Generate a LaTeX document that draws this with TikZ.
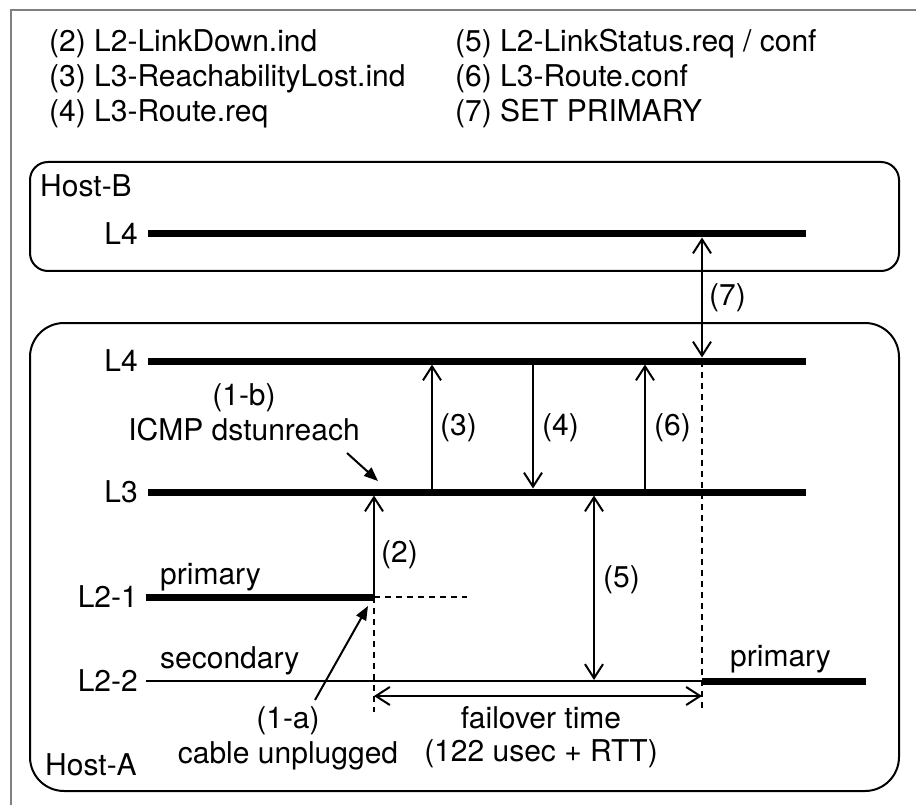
\documentclass[tikz,border=0pt]{standalone}
\usepackage{fontspec}
\setmainfont{TeX Gyre Heros}
\usepackage{tikz}
\usetikzlibrary{positioning, arrows.meta, calc}

\begin{document}
\begin{tikzpicture}[
    x=1pt, y=-1pt,
    every node/.style={font=\fontsize{30}{36}\selectfont, inner sep=0pt},
    host/.style={draw, line width=2pt},
    layer/.style={line width=7pt},
    link/.style={line width=2pt},
    msg/.style={-{Straight Barb[length=14pt, width=18pt]}, line width=2pt},
    both/.style={{Straight Barb[length=14pt, width=18pt]}-{Straight Barb[length=14pt, width=18pt]}, line width=2pt},
    note/.style={-{Triangle[length=14pt, width=11pt]}, line width=2pt},
    guide/.style={dash pattern=on 6pt off 5pt, line width=1.6pt},
    lname/.style={anchor=east},
    tag/.style={anchor=west}
]
\useasboundingbox (0,0) rectangle (916,805);

% Frame
\draw[gray, line width=1.5pt] (11,805) -- (11,10) -- (916,10);

% Legend
\node[anchor=base west] (lg2) at (49,52) {(2) L2-LinkDown.ind};
\node[anchor=base west] (lg3) at (49,87) {(3) L3-ReachabilityLost.ind};
\node[anchor=base west] (lg4) at (49,122) {(4) L3-Route.req};
\node[anchor=base west] (lg5) at (455,52) {(5) L2-LinkStatus.req / conf};
\node[anchor=base west] (lg6) at (455,87) {(6) L3-Route.conf};
\node[anchor=base west] (lg7) at (455,122) {(7) SET PRIMARY};

% Hosts
\draw[host, rounded corners=18pt] (30,162) rectangle (899,271);
\draw[host, rounded corners=34pt] (30,323) rectangle (899,791);
\node[anchor=base west] (hostb) at (40,197) {Host-B};
\node[anchor=base west] (hosta) at (45,775) {Host-A};

% Layers
\coordinate (b4w) at (148,234);  \coordinate (b4e) at (806,234);
\coordinate (a4w) at (148,361);  \coordinate (a4e) at (806,361);
\coordinate (a3w) at (148,492);  \coordinate (a3e) at (806,492);
\coordinate (l1w) at (146,597);  \coordinate (l1e) at (374,597);
\coordinate (l1d) at (467,597);
\coordinate (l2w) at (146,681);  \coordinate (l2m) at (702,681);
\coordinate (l2e) at (866,681);

\draw[layer] (b4w) -- (b4e);
\draw[layer] (a4w) -- (a4e);
\draw[layer] (a3w) -- (a3e);
\draw[layer] (l1w) -- (l1e);
\draw[link] (l2w) -- (l2m);
\draw[layer] (l2m) -- (l2e);
\draw[guide] (l1e) -- (l1d);

\node[lname] (nb4) at (138,234) {L4};
\node[lname] (na4) at (138,361) {L4};
\node[lname] (na3) at (138,492) {L3};
\node[lname] (nl1) at (138,597) {L2-1};
\node[lname] (nl2) at (138,681) {L2-2};

\node[anchor=base west] (prim1) at (160,584) {primary};
\node[anchor=base west] (secnd) at (160,668) {secondary};
\node[anchor=base west] (prim2) at (730,666) {primary};

% Messages
\coordinate (x3) at (432,0);
\coordinate (x4) at (533,0);
\coordinate (x5) at (594,0);
\coordinate (x6) at (645,0);
\coordinate (x7) at (702,0);

\draw[msg, shorten >=3.5pt] (l1e) -- (l1e |- a3w);
\draw[msg, shorten >=3.5pt] (x3 |- a3w) -- (x3 |- a4w);
\draw[msg, shorten >=3.5pt] (x4 |- a4w) -- (x4 |- a3w);
\draw[msg, shorten >=3.5pt] (x6 |- a3w) -- (x6 |- a4w);
\draw[both, shorten <=3.5pt, shorten >=1pt] (x5 |- a3w) -- (x5 |- l2w);
\draw[both, shorten <=3.5pt, shorten >=3.5pt] (x7 |- b4w) -- (x7 |- a4w);

\node[tag] (m2) at (381,555) {(2)};
\node[tag] (m3) at (440,428) {(3)};
\node[tag] (m4) at (542,428) {(4)};
\node[tag] (m6) at (654,428) {(6)};
\node[tag] (m5) at (603,580) {(5)};
\node[tag] (m7) at (709,298) {(7)};

% Failover time
\coordinate (f1) at (374,712);
\coordinate (f2) at (702,712);
\draw[guide] (l1e) -- (f1);
\draw[guide] (x7 |- a4w) -- (f2);
\draw[both] (374,696) coordinate (fa) -- (702,696) coordinate (fb);
\node[anchor=base] (fover) at (541,728) {failover time};
\node[below=11pt of fover] (rtt) {(122 usec + RTT)};

% Causes
\node[anchor=base] (onea) at (288,728) {(1-a)};
\node[below=7pt of onea] (unplug) {cable unplugged};
\coordinate (ta) at (315,700);
\coordinate (ha) at (368,606);
\draw[note] (ta) -- (ha);

\node[anchor=base] (oneb) at (244,405) {(1-b)};
\node[below=6pt of oneb] (icmp) {ICMP dstunreach};
\coordinate (tb) at (347,453);
\coordinate (hb) at (378,481);
\draw[note] (tb) -- (hb);

\end{tikzpicture}
\end{document}
